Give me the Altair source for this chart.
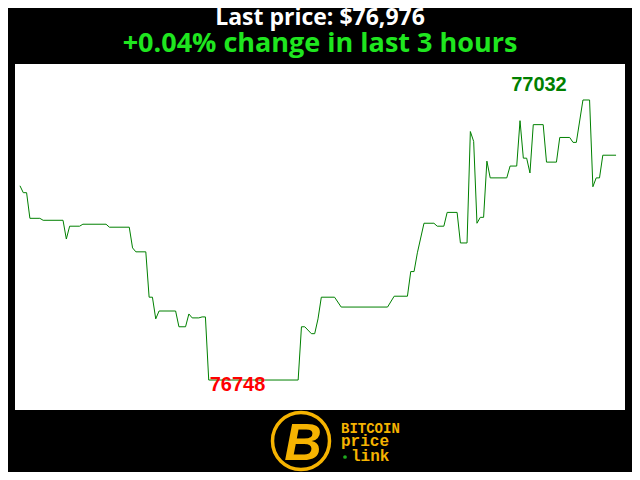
import altair as alt
import pandas as pd

# minutes since start of the 3-hour window (vertices of the step-like line)
times = [0, 1, 2, 3, 6, 7, 13, 14, 15, 18,
         19, 26, 27, 33, 34, 35, 38, 39, 40, 41,
         42, 47, 48, 50, 51, 52, 54, 55, 56, 57,
         84, 85, 86, 88, 89, 90, 91, 95, 97, 111,
         113, 117, 118, 119, 120, 122, 125, 126, 128, 129,
         132, 133, 135, 136, 137, 138, 139, 140, 141, 142,
         147, 148, 150, 151, 152, 153, 154, 155, 158, 159,
         162, 163, 166, 167, 168, 170, 172, 173, 174, 175,
         176, 180]
prices = [76945, 76938, 76938, 76912, 76912, 76910, 76910, 76891, 76904, 76904,
          76906, 76906, 76903, 76903, 76882, 76878, 76878, 76832, 76832, 76810,
          76818, 76818, 76802, 76802, 76815, 76811, 76811, 76812, 76812, 76748,
          76748, 76802, 76802, 76795, 76795, 76810, 76832, 76832, 76822, 76822,
          76833, 76833, 76858, 76858, 76877, 76907, 76907, 76904, 76904, 76918,
          76918, 76887, 76887, 77000, 76990, 76907, 76913, 76913, 76970, 76953,
          76953, 76965, 76965, 77011, 76973, 76973, 76958, 77007, 77007, 76969,
          76969, 76994, 76994, 76989, 76989, 77032, 77032, 76944, 76953, 76953,
          76976, 76976]

title_text = ["Last price: $76,976"]
subtitle_text = ["+0.04% change in last 3 hours"]
logo_lines = ["BITCOIN", "price", "link"]

GOLD = "#f5b301"
df = pd.DataFrame({"t": times, "price": prices})

xs = alt.Scale(domain=[-1.5, 182.7], nice=False, zero=False)
ys = alt.Scale(domain=[76717.6, 77068.5], nice=False, zero=False)
X = alt.X("t:Q", scale=xs, axis=None)
Y = alt.Y("price:Q", scale=ys, axis=None)

line = alt.Chart(df).mark_line(color="#008000", strokeWidth=1).encode(x=X, y=Y)

imax = df["price"].idxmax()
imin = df["price"].idxmin()
max_df = df.loc[[imax]].assign(label=lambda d: d["price"].astype(str))
min_df = df.loc[[imin]].assign(label=lambda d: d["price"].astype(str))

max_lab = alt.Chart(max_df).mark_text(
    color="#008000", font="Liberation Sans", fontWeight="bold", fontSize=20,
    align="center", baseline="alphabetic", dx=-44, dy=-9
).encode(x=X, y=Y, text="label:N")

min_lab = alt.Chart(min_df).mark_text(
    color="#ff0000", font="Liberation Sans", fontWeight="bold", fontSize=20,
    align="left", baseline="alphabetic", dx=1, dy=11
).encode(x=X, y=Y, text="label:N")

title = alt.Chart(pd.DataFrame({"txt": title_text})).mark_text(
    color="white", font="Open Sans", fontWeight="bold", fontSize=23,
    align="center", baseline="alphabetic"
).encode(x=alt.value(305), y=alt.value(-39), text="txt:N")

subtitle = alt.Chart(pd.DataFrame({"txt": subtitle_text})).mark_text(
    color="#1fe61f", font="Open Sans", fontWeight="bold", fontSize=27,
    align="center", baseline="alphabetic"
).encode(x=alt.value(305), y=alt.value(-12), text="txt:N")

one = pd.DataFrame({"k": [0]})
ring = alt.Chart(one).mark_point(
    shape="circle", filled=False, size=3249, stroke=GOLD, strokeWidth=3.5, opacity=1
).encode(x=alt.value(286), y=alt.value(377))

big_b = alt.Chart(one).mark_text(
    text="B", color=GOLD, font="Liberation Sans", fontWeight="bold", fontStyle="italic",
    fontSize=52, align="center", baseline="middle"
).encode(x=alt.value(288), y=alt.value(380))

l1 = alt.Chart(pd.DataFrame({"txt": [logo_lines[0]]})).mark_text(
    color=GOLD, font="Liberation Mono", fontWeight="bold", fontSize=14,
    align="left", baseline="alphabetic"
).encode(x=alt.value(326), y=alt.value(369), text="txt:N")
l2 = alt.Chart(pd.DataFrame({"txt": [logo_lines[1]]})).mark_text(
    color=GOLD, font="Liberation Mono", fontWeight="bold", fontSize=16,
    align="left", baseline="alphabetic"
).encode(x=alt.value(326), y=alt.value(382), text="txt:N")
l3 = alt.Chart(pd.DataFrame({"txt": [logo_lines[2]]})).mark_text(
    color=GOLD, font="Liberation Mono", fontWeight="bold", fontSize=16,
    align="left", baseline="alphabetic"
).encode(x=alt.value(336), y=alt.value(397), text="txt:N")
dot = alt.Chart(one).mark_point(
    shape="circle", filled=True, size=14, color="#1faa1f", opacity=1
).encode(x=alt.value(330), y=alt.value(393))

chart = alt.layer(line, max_lab, min_lab, title, subtitle, ring, big_b, l1, l2, l3, dot).properties(
    width=610, height=346, background="black",
    padding={"left": 7, "top": 56, "right": 7, "bottom": 62},
    autosize=alt.AutoSizeParams(type="none"),
).configure_view(fill="white", strokeWidth=0)

chart.save("out.html", embed_options={"renderer": "svg", "actions": False})
